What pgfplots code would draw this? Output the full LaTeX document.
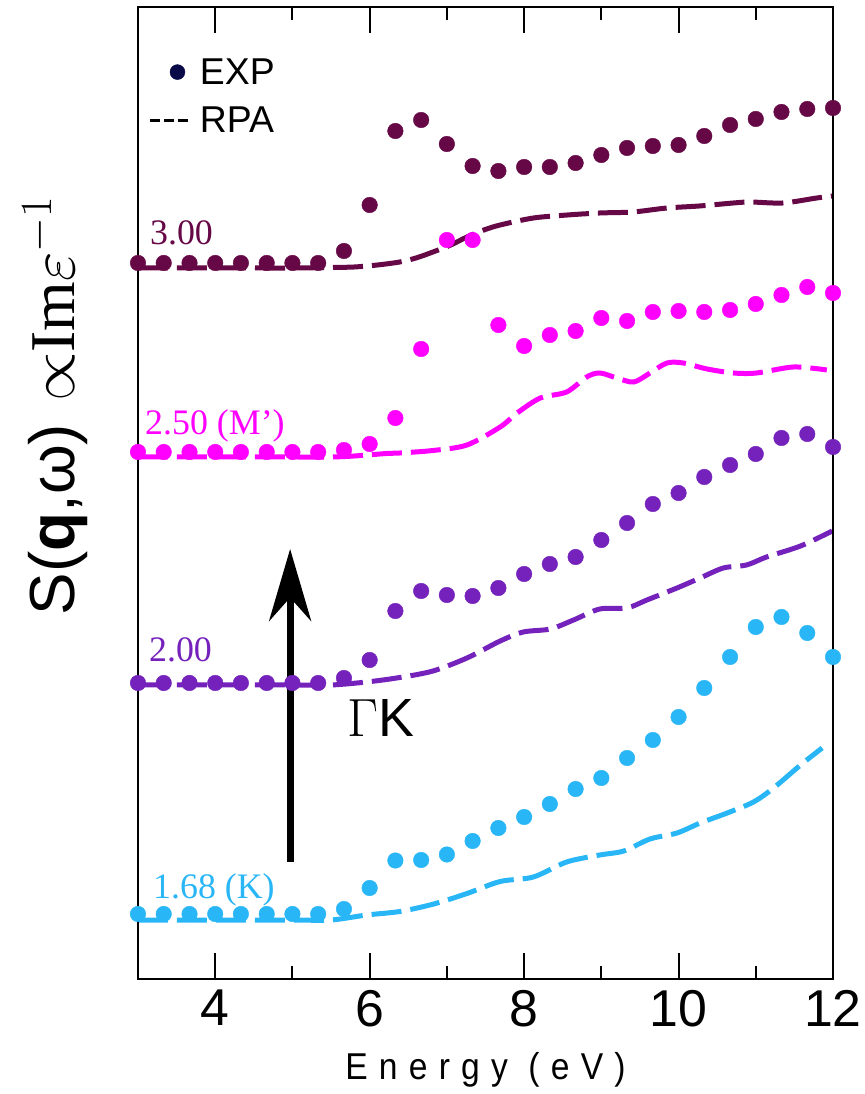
\RequirePackage{fix-cm}
\documentclass[border=0pt]{standalone}
\usepackage{pgfplots}
\pgfplotsset{compat=1.18}
\usepackage{fontspec}
\setmainfont{Liberation Serif}
\setsansfont{Liberation Sans}
\newfontfamily\tickfont{Liberation Sans}
\newfontfamily\labfont[LetterSpace=30,FakeStretch=0.9]{Liberation Sans}
\usetikzlibrary{arrows.meta}
\definecolor{cmaroon}{RGB}{102,8,70}
\definecolor{cmag}{RGB}{255,0,255}
\definecolor{cpurp}{RGB}{116,34,187}
\definecolor{cblue}{RGB}{41,182,246}
\definecolor{cnavy}{RGB}{10,10,72}
\begin{document}
\begin{tikzpicture}
\begin{axis}[
  width=695bp, height=972bp, scale only axis,
  xmin=3, xmax=12, ymin=0, ymax=972,
  clip=false, axis on top,
  axis line style={line width=2.5bp},
  xtick={4,6,8,10,12}, minor xtick={5,7,9,11}, ytick=\empty,
  tick align=inside, major tick length=26bp, minor tick length=13bp,
  every tick/.style={black, line width=2bp},
  /pgf/number format/assume math mode=true,
  xticklabel style={font=\fontsize{52}{52}\selectfont\tickfont, inner sep=0pt, yshift=-11bp},
  xlabel={Energy (eV)},
  xlabel style={at={(axis description cs:0.5,-0.1039)}, anchor=base, inner sep=0pt, font=\fontsize{37.5}{40}\selectfont\labfont},
  ylabel={\textsf{S(\textbf{q},ω)}\hspace{22bp}${\propto}\mathrm{Im}\varepsilon^{-1}$},
  ylabel style={at={(axis description cs:-0.1194,0.5895)}, anchor=center, inner sep=0pt, font=\fontsize{64}{70}\selectfont},
  legend style={at={(axis description cs:0.0158,0.947)}, anchor=north west, draw=none, fill=none, inner sep=0pt, outer sep=0pt,
    font=\fontsize{37.5}{40}\selectfont\sffamily, row sep=21bp, nodes={inner sep=0pt},
    /tikz/every odd column/.append style={column sep=9bp}},
  legend cell align=left,
]
\addlegendimage{legend image code/.code={\fill[cnavy] (27bp,0bp) circle (7.5bp);}}
\addlegendentry{EXP}
\addlegendimage{legend image code/.code={\draw[black, line width=3bp, dash pattern=on 10bp off 4bp] (0bp,0bp) -- (39bp,0bp);}}
\addlegendentry{RPA}

% ---------- RPA curves ----------
\addplot[forget plot, cmaroon, line width=5bp, dash pattern=on 30bp off 9bp, smooth] coordinates {
(3,711) (3.5,711) (4,711) (4.5,711) (5,711) (5.5,711.5) (5.8,712) (6.1,714) (6.39,717) (6.6,721) (6.82,727)
(7.05,734) (7.26,742) (7.48,749) (7.69,754) (8.12,761) (8.56,764) (8.98,766) (9.41,767) (9.85,771)
(10.27,773) (10.71,776) (10.93,777) (11.35,776) (11.79,781) (12,783)};
\addplot[forget plot, cmag, line width=5bp, dash pattern=on 30bp off 9bp, smooth] coordinates {
(3,522) (3.5,522) (4,522) (4.5,522) (5,522) (5.5,522) (5.8,523) (6.22,525.5) (6.39,526) (6.82,528.5)
(7.26,534) (7.69,552) (7.91,566) (8.21,581) (8.55,587) (8.81,602) (8.98,606) (9.20,601) (9.42,597)
(9.63,606) (9.85,616) (10.06,616) (10.37,610) (10.71,606) (11.01,606) (11.49,612) (11.92,609)};
\addplot[forget plot, cpurp, line width=5bp, dash pattern=on 30bp off 9bp, smooth] coordinates {
(3,294) (3.5,294) (4,294) (4.5,294) (5,294) (5.5,294) (5.96,297) (6.39,301.5) (6.82,308) (7.26,321)
(7.69,338) (7.99,347) (8.34,350) (8.64,359) (8.98,370) (9.33,371) (9.59,379) (9.98,391) (10.28,401)
(10.58,411) (10.88,414) (11.14,422) (11.58,433) (11.99,448)};
\addplot[forget plot, cblue, line width=5bp, dash pattern=on 30bp off 9bp, smooth] coordinates {
(3,59) (3.5,59) (4,59) (4.5,59) (5,59) (5.5,59) (5.96,64) (6.39,67.5) (6.83,75) (7.26,85.5) (7.69,97.5)
(8.12,102) (8.55,117) (8.98,124) (9.29,128) (9.63,140) (9.98,146) (10.28,156) (10.63,166) (10.97,177)
(11.23,191) (11.58,214) (11.86,231)};

% ---------- EXP points ----------
\addplot[forget plot, only marks, mark=*, mark size=7.8bp, cmaroon] coordinates {
(3,716) (3.333,716) (3.667,716) (4,716) (4.333,716) (4.667,716) (5,716) (5.333,716) (5.667,728) (6,774)
(6.333,848) (6.667,859) (7,835) (7.333,813) (7.667,808) (8,812) (8.333,812) (8.667,816) (9,824)
(9.333,831) (9.667,833) (10,834) (10.333,843) (10.667,854) (11,860) (11.333,867) (11.667,870) (12,871)};
\addplot[forget plot, only marks, mark=*, mark size=7.8bp, cmag] coordinates {
(3,527) (3.333,527) (3.667,527) (4,527) (4.333,527) (4.667,527) (5,527) (5.333,527) (5.667,529) (6,535)
(6.333,561) (6.667,630) (7,739) (7.333,739) (7.667,654) (8,633) (8.333,644) (8.667,648) (9,661)
(9.333,658) (9.667,667) (10,668) (10.333,667) (10.667,669) (11,675) (11.333,684) (11.667,692) (12,686)};
\addplot[forget plot, only marks, mark=*, mark size=7.8bp, cpurp] coordinates {
(3,296) (3.333,296) (3.667,296) (4,296) (4.333,296) (4.667,296) (5,296) (5.333,296) (5.667,301) (6,319)
(6.333,368) (6.667,388) (7,384) (7.333,383) (7.667,391) (8,405) (8.333,415) (8.667,422) (9,439)
(9.333,456) (9.667,475) (10,486) (10.333,502) (10.667,514) (11,525) (11.333,541) (11.667,545) (12,532)};
\addplot[forget plot, only marks, mark=*, mark size=7.8bp, cblue] coordinates {
(3,65) (3.333,65) (3.667,65) (4,65) (4.333,65) (4.667,65) (5,65) (5.333,65) (5.667,70) (6,91)
(6.333,118.5) (6.667,119) (7,124.5) (7.333,138) (7.667,151) (8,162) (8.333,175) (8.667,190) (9,201)
(9.333,221) (9.667,239) (10,262) (10.333,291) (10.667,322) (11,352) (11.333,362) (11.667,346) (12,322)};

% ---------- annotations ----------
\node[anchor=base west, inner sep=0pt, text=cmaroon, font=\fontsize{36}{38}\selectfont] at (axis cs:3.155,734) {3.00};
\node[anchor=base west, inner sep=0pt, text=cmag, font=\fontsize{36}{38}\selectfont] at (axis cs:3.091,544) {2.50 (M’)};
\node[anchor=base west, inner sep=0pt, text=cpurp, font=\fontsize{36}{38}\selectfont] at (axis cs:3.142,317) {2.00};
\node[anchor=base west, inner sep=0pt, text=cblue, font=\fontsize{36}{38}\selectfont] at (axis cs:3.194,81) {1.68 (K)};
\draw[line width=7bp, -{Stealth[length=72bp,width=42bp]}] (axis cs:4.97,117) -- (axis cs:4.97,430);
\node[inner sep=0pt, font=\fontsize{54}{56}\selectfont] at (axis cs:6.15,261) {$\Gamma$\textsf{K}};
\coordinate (BL) at (axis cs:3,0);
\coordinate (TR) at (axis cs:12,972);
\end{axis}
\pgfresetboundingbox
\path[use as bounding box] ([shift={(-138bp,-115bp)}]BL) rectangle ([shift={(32bp,7bp)}]TR);
\end{tikzpicture}
\end{document}
